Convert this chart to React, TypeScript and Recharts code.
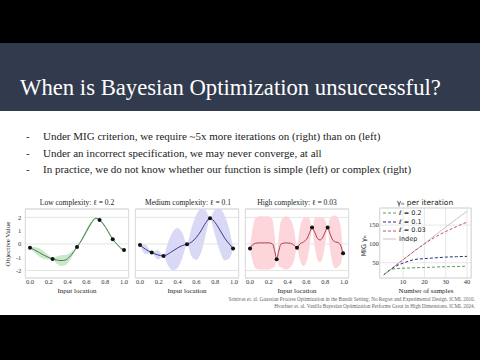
import React from "react";
import {
  ComposedChart,
  LineChart,
  Area,
  Line,
  Scatter,
  XAxis,
  YAxis,
  CartesianGrid,
  ReferenceArea,
} from "recharts";

const serif = '"Liberation Serif", "Times New Roman", "DejaVu Serif", serif';
const sans = '"DejaVu Sans", sans-serif';

const titleText = "When is Bayesian Optimization unsuccessful?";
const bullets = [
  "Under MIG criterion, we require ~5x more iterations on (right) than on (left)",
  "Under an incorrect specification, we may never converge, at all",
  "In practice, we do not know whether our function is simple (left) or complex (right)",
];
const citations = [
  "Srinivas et. al. Gaussian Process Optimization in the Bandit Setting: No Regret and Experimental Design. ICML 2010.",
  "Hvarfner et. al. Vanilla Bayesian Optimization Performs Great in High Dimensions. ICML 2024.",
];

const inputTicks = [0, 0.2, 0.4, 0.6, 0.8, 1.0];
const valueTicks = [-2, -1, 0, 1, 2];

// low complexity, l = 0.2
const lowX = [0, 0.05, 0.1, 0.15, 0.2, 0.24, 0.28, 0.33, 0.38, 0.43, 0.5, 0.55, 0.6, 0.65, 0.7, 0.74, 0.78, 0.83, 0.88, 0.93, 0.97, 1.0];
const lowMean = [-0.28, -0.45, -0.65, -0.85, -1.02, -1.13, -1.2, -1.25, -1.2, -0.9, -0.23, 0.3, 0.95, 1.55, 1.93, 1.8, 1.5, 0.95, 0.35, -0.05, -0.35, -0.45];
const lowBand = [0.05, 0.22, 0.32, 0.28, 0.15, 0.05, 0.25, 0.4, 0.38, 0.25, 0.05, 0.12, 0.18, 0.15, 0.08, 0.05, 0.08, 0.08, 0.05, 0.06, 0.06, 0.05];
const lowObsX = [0, 0.24, 0.5, 0.74, 0.88, 1.0];
const lowObsY = [-0.28, -1.13, -0.23, 1.8, 0.35, -0.45];

// medium complexity, l = 0.1
const medX = [0, 0.06, 0.125, 0.19, 0.25, 0.3, 0.35, 0.4, 0.45, 0.5, 0.55, 0.6, 0.65, 0.7, 0.745, 0.8, 0.85, 0.9, 0.95, 0.99];
const medMean = [-0.08, -0.4, -0.65, -0.82, -0.9, -0.75, -0.52, -0.3, -0.12, -0.02, 0.15, 0.5, 1.0, 1.6, 1.93, 1.6, 1.05, 0.45, 0.0, -0.35];
const medBand = [0.05, 0.35, 0.05, 0.35, 0.05, 0.9, 1.45, 1.5, 0.95, 0.05, 1.1, 1.7, 1.65, 0.9, 0.05, 1.0, 1.6, 1.7, 1.1, 0.05];
const medObsX = [0, 0.125, 0.25, 0.5, 0.745, 0.99];
const medObsY = [-0.08, -0.65, -0.9, -0.02, 1.93, -0.35];

// high complexity, l = 0.03
const highX = [0, 0.03, 0.06, 0.1, 0.15, 0.2, 0.24, 0.265, 0.284, 0.305, 0.33, 0.38, 0.43, 0.47, 0.5, 0.53, 0.57, 0.61, 0.635, 0.66, 0.69, 0.72, 0.745, 0.77, 0.8, 0.826, 0.85, 0.88, 0.91, 0.94, 0.97, 0.99, 1.0];
const highMean = [-0.35, -0.05, 0.05, 0.08, 0.08, 0.08, 0.0, -0.6, -1.15, -0.55, 0.0, 0.08, 0.05, -0.1, -0.28, 0.0, 0.15, 0.45, 0.85, 1.23, 0.85, 0.4, 0.3, 0.45, 0.9, 1.23, 0.8, 0.3, 0.15, 0.1, -0.2, -0.7, -0.8];
const highBand = [0.05, 1.3, 1.9, 2.0, 2.0, 2.0, 1.8, 1.1, 0.05, 1.1, 1.75, 2.0, 1.8, 1.1, 0.05, 1.2, 1.8, 1.6, 1.0, 0.05, 1.1, 1.65, 1.7, 1.55, 0.9, 0.05, 1.1, 1.8, 2.0, 1.8, 1.2, 0.05, 0.35];
const highObsX = [0, 0.284, 0.5, 0.66, 0.826, 0.99];
const highObsY = [-0.35, -1.15, -0.28, 1.23, 1.23, -0.7];

// MIG gamma_n per iteration
const sampleCounts = [1, 3, 5, 7, 10, 13, 16, 20, 25, 30, 35, 40];
const migL02 = [18, 27, 33, 34.5, 35.5, 36, 37, 37.5, 38.5, 39.5, 40, 41];
const migL01 = [18, 27, 35, 42, 49, 55, 59, 61, 63, 65, 66, 67];
const migL003 = [18, 27, 36, 45, 58, 71, 84, 100, 118, 133, 146, 158];
const migIndep = [18, 27, 36, 45, 58, 71, 84, 101, 123, 145, 166, 187];
const sampleTicks = [10, 20, 30, 40];
const migTicks = [50, 100, 150];

const migSeries = [
  { key: "l02", label: "ℓ = 0.2", color: "#5a9e5a", dash: "3 2" },
  { key: "l01", label: "ℓ = 0.1", color: "#2c2c7c", dash: "3 2" },
  { key: "l003", label: "ℓ = 0.03", color: "#c4506a", dash: "3 2" },
  { key: "indep", label: "Indep", color: "#c4c4c4", dash: undefined },
];

const Y_DOMAIN = [-2.56, 2.63];

function Dot(props: any) {
  return <circle cx={props.cx} cy={props.cy} r={2} fill="#111" />;
}

function GPPanel(props: any) {
  const { left, width, mLeft, mRight, showY, xs, mean, band, obsX, obsY, fill, stroke } = props;
  const data = xs.map((x: number, i: number) => ({
    x,
    mean: mean[i],
    band: [mean[i] - band[i], mean[i] + band[i]],
  }));
  const points = obsX.map((x: number, i: number) => ({ x, y: obsY[i] }));
  return (
    <div style={{ position: "absolute", left, top: 200 }}>
      <ComposedChart
        width={width}
        height={100}
        data={data}
        margin={{ top: 9, right: mRight, bottom: 8, left: mLeft }}
      >
        <CartesianGrid vertical={false} stroke="#e4e4e4" />
        <XAxis
          type="number"
          dataKey="x"
          domain={[-0.05, 1.05]}
          ticks={inputTicks}
          tickFormatter={(v: number) => v.toFixed(1)}
          tick={{ fontSize: 6.5, fill: "#333", fontFamily: serif }}
          tickLine={false}
          axisLine={false}
          tickSize={0}
          tickMargin={1}
          height={14}
          allowDataOverflow
        />
        <YAxis
          type="number"
          dataKey="y"
          domain={Y_DOMAIN}
          ticks={valueTicks}
          hide={!showY}
          width={25.3}
          tick={{ fontSize: 6.5, fill: "#333", fontFamily: serif }}
          tickLine={false}
          axisLine={false}
          tickSize={0}
          tickMargin={4}
          allowDataOverflow
        />
        <ReferenceArea
          x1={-0.05}
          x2={1.05}
          y1={Y_DOMAIN[0]}
          y2={Y_DOMAIN[1]}
          fill="none"
          stroke="#d8d8d8"
          ifOverflow="visible"
        />
        <Area
          type="monotone"
          dataKey="band"
          fill={fill}
          fillOpacity={1}
          stroke="none"
          isAnimationActive={false}
        />
        <Line
          type="monotone"
          dataKey="mean"
          stroke={stroke}
          strokeWidth={1}
          dot={false}
          isAnimationActive={false}
        />
        <Scatter data={points} dataKey="y" shape={Dot} isAnimationActive={false} />
      </ComposedChart>
    </div>
  );
}

function Label(props: any) {
  const { cx, cy, text, size, font, rotate } = props;
  return (
    <div
      style={{
        position: "absolute",
        left: cx - 60,
        top: cy - 5,
        width: 120,
        lineHeight: "10px",
        textAlign: "center",
        fontSize: size,
        fontFamily: font || serif,
        color: "#222",
        whiteSpace: "nowrap",
        transform: rotate ? "rotate(-90deg)" : undefined,
      }}
    >
      {text}
    </div>
  );
}

export default function App() {
  const migData = sampleCounts.map((n, i) => ({
    n,
    l02: migL02[i],
    l01: migL01[i],
    l003: migL003[i],
    indep: migIndep[i],
  }));

  return (
    <div
      style={{
        position: "absolute",
        left: 0,
        top: 0,
        width: 480,
        height: 360,
        background: "#fff",
        overflow: "hidden",
        fontFamily: serif,
      }}
    >
      <div style={{ position: "absolute", left: 0, top: 0, width: 480, height: 43, background: "#000" }} />
      <div style={{ position: "absolute", left: 0, top: 43, width: 480, height: 68, background: "#323a4d" }} />
      <div
        style={{
          position: "absolute",
          left: 20,
          top: 74,
          fontSize: 22.7,
          lineHeight: "28px",
          color: "#fff",
          fontFamily: serif,
          whiteSpace: "nowrap",
        }}
      >
        {titleText}
      </div>

      {bullets.map((b, i) => (
        <div
          key={i}
          style={{
            position: "absolute",
            left: 26,
            top: 128 + i * 16.6,
            fontSize: 11,
            lineHeight: "16px",
            color: "#222",
            fontFamily: serif,
            whiteSpace: "nowrap",
          }}
        >
          <span style={{ display: "inline-block", width: 17 }}>-</span>
          {b}
        </div>
      ))}

      <Label cx={77} cy={203} text="Low complexity: ℓ = 0.2" size={7.5} />
      <Label cx={188} cy={203} text="Medium complexity: ℓ = 0.1" size={7.5} />
      <Label cx={297} cy={203} text="High complexity: ℓ = 0.03" size={7.5} />
      <Label cx={425} cy={203} text="γₙ per iteration" size={7.5} font={sans} />

      <GPPanel
        left={0}
        width={132}
        mLeft={0}
        mRight={3.3}
        showY
        xs={lowX}
        mean={lowMean}
        band={lowBand}
        obsX={lowObsX}
        obsY={lowObsY}
        fill="#cde7cd"
        stroke="#3f7f4f"
      />
      <GPPanel
        left={130}
        width={116}
        mLeft={5.3}
        mRight={7.3}
        xs={medX}
        mean={medMean}
        band={medBand}
        obsX={medObsX}
        obsY={medObsY}
        fill="#d9d9f6"
        stroke="#3a3a8c"
      />
      <GPPanel
        left={240}
        width={116}
        mLeft={5.3}
        mRight={7.3}
        xs={highX}
        mean={highMean}
        band={highBand}
        obsX={highObsX}
        obsY={highObsY}
        fill="#fcd6da"
        stroke="#a8404e"
      />

      <div style={{ position: "absolute", left: 355, top: 200 }}>
        <LineChart
          width={125}
          height={100}
          data={migData}
          margin={{ top: 8, right: 8.8, bottom: 8, left: 0 }}
        >
          <CartesianGrid stroke="#e6e6e6" />
          <XAxis
            type="number"
            dataKey="n"
            domain={[-0.95, 41.95]}
            ticks={sampleTicks}
            tick={{ fontSize: 6.5, fill: "#333", fontFamily: serif }}
            tickLine={false}
            axisLine={false}
            tickSize={0}
            tickMargin={1}
            height={14}
          />
          <YAxis
            type="number"
            domain={[9.5, 195.5]}
            ticks={migTicks}
            width={24.7}
            tick={{ fontSize: 6.5, fill: "#333", fontFamily: serif }}
            tickLine={false}
            axisLine={false}
            tickSize={0}
            tickMargin={1}
          />
          <ReferenceArea
            x1={-0.95}
            x2={41.95}
            y1={9.5}
            y2={195.5}
            fill="none"
            stroke="#d8d8d8"
            ifOverflow="visible"
          />
          {[...migSeries].reverse().map((s) => (
            <Line
              key={s.key}
              type="monotone"
              dataKey={s.key}
              stroke={s.color}
              strokeWidth={1}
              strokeDasharray={s.dash}
              dot={false}
              isAnimationActive={false}
            />
          ))}
        </LineChart>
      </div>

      <div style={{ position: "absolute", left: 383, top: 209, fontFamily: sans, fontSize: 6.5, color: "#222" }}>
        {migSeries.map((s) => (
          <div key={s.key} style={{ height: 8.7, lineHeight: "8.7px", whiteSpace: "nowrap" }}>
            <svg width={13} height={6} style={{ verticalAlign: "middle", marginRight: 3 }}>
              <line x1={0} y1={3} x2={13} y2={3} stroke={s.color} strokeWidth={1} strokeDasharray={s.dash} />
            </svg>
            {s.label}
          </div>
        ))}
      </div>

      <Label cx={8} cy={244} text="Objective Value" size={7} rotate />
      <Label cx={364} cy={246} text="MIG γₙ" size={6.5} font={sans} rotate />
      <Label cx={77} cy={291} text="Input location" size={7} />
      <Label cx={187} cy={291} text="Input location" size={7} />
      <Label cx={297} cy={291} text="Input location" size={7} />
      <Label cx={426} cy={291} text="Number of samples" size={7} />

      {citations.map((c, i) => (
        <div
          key={i}
          style={{
            position: "absolute",
            right: 5,
            top: 296 + i * 7,
            fontSize: 5.2,
            lineHeight: "7px",
            color: "#666",
            fontFamily: serif,
            whiteSpace: "nowrap",
          }}
        >
          {c}
        </div>
      ))}

      <div style={{ position: "absolute", left: 0, top: 315, width: 480, height: 45, background: "#000" }} />
    </div>
  );
}
